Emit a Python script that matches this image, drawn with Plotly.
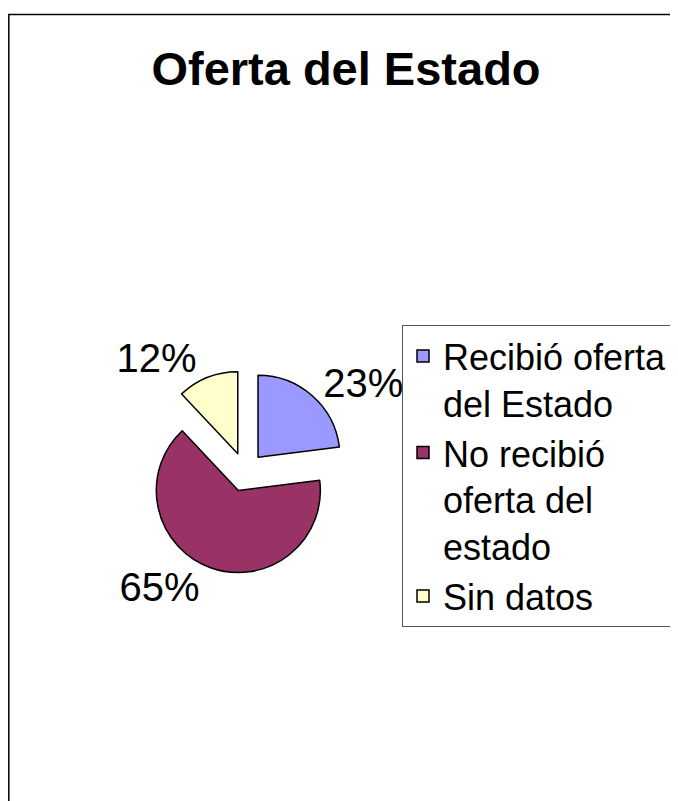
import plotly.graph_objects as go

title_text = "Oferta del Estado"
labels = ["Recibió oferta\u00a0<br>del Estado", "No recibió<br>oferta del<br>estado", "Sin datos"]
values = [23, 65, 12]
colors = ["#9999FF", "#993366", "#FFFFCC"]

W, H = 678, 801
FONT = "Liberation Sans, Arial, sans-serif"

# pie geometry (figure pixels): centre (237, 464), slice radius ~82, pull 0.24
CX, CY, SIDE = 237, 464, 203.4
dom_x = [(CX - SIDE / 2) / W, (CX + SIDE / 2) / W]
dom_y = [1 - (CY + SIDE / 2) / H, 1 - (CY - SIDE / 2) / H]

fig = go.Figure(go.Pie(
    labels=labels,
    values=values,
    sort=False,
    direction="clockwise",
    rotation=0,
    pull=[0.24, 0.24, 0.24],
    marker=dict(colors=colors, line=dict(color="black", width=1.5)),
    textinfo="percent",
    textposition="outside",
    textfont=dict(family=FONT, size=40, color="black"),
    domain=dict(x=dom_x, y=dom_y),
    hoverinfo="label+percent",
))

fig.add_shape(type="rect", xref="paper", yref="paper",
              x0=0.8 / W, x1=1.05, y0=-0.05, y1=1 - 6.5 / H,
              line=dict(color="black", width=1.5), fillcolor="rgba(0,0,0,0)")

fig.update_layout(
    width=W, height=H,
    margin=dict(l=0, r=0, t=0, b=0, autoexpand=False),
    paper_bgcolor="white", plot_bgcolor="white",
    title=dict(text="<b>" + title_text + "</b>", x=338 / W, xanchor="center",
               y=1 - 61 / H, yanchor="middle",
               font=dict(family=FONT, size=47, color="black")),
    showlegend=True,
    legend=dict(x=394 / W, y=1 - 317 / H, xanchor="left", yanchor="top",
                bordercolor="#555555", borderwidth=1, bgcolor="white",
                font=dict(family=FONT, size=36, color="black"),
                valign="top", traceorder="normal"),
)

fig.write_html("out.html")
